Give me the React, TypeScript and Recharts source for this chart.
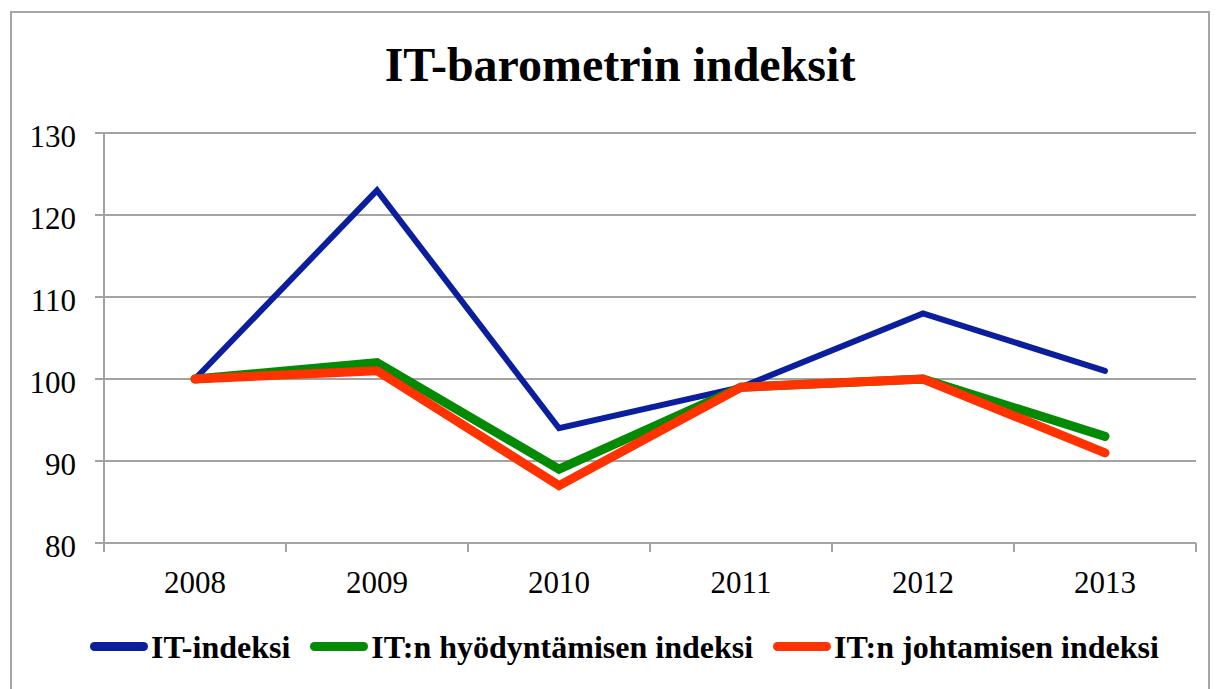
import { LineChart, Line, XAxis, YAxis, CartesianGrid } from "recharts";

const YEARS = ["2008", "2009", "2010", "2011", "2012", "2013"];
const IT_INDEKSI = [100, 123, 94, 99, 108, 101];
const HYODYNTAMINEN = [100, 102, 89, 99, 100, 93];
const JOHTAMINEN = [100, 101, 87, 99, 100, 91];
const Y_TICKS = [80, 90, 100, 110, 120, 130];

const SERIES = [
  { key: "it", name: "IT-indeksi", color: "#0A1E9E", width: 6 },
  { key: "hyod", name: "IT:n hyödyntämisen indeksi", color: "#058A05", width: 9 },
  { key: "joht", name: "IT:n johtamisen indeksi", color: "#FF3200", width: 9 },
];

const data = YEARS.map((year, i) => ({
  year,
  it: IT_INDEKSI[i],
  hyod: HYODYNTAMINEN[i],
  joht: JOHTAMINEN[i],
}));

const W = 1217;
const H = 689;
const PLOT_LEFT = 104;
const PLOT_RIGHT = 1196;
const PLOT_TOP = 133;
const PLOT_BOTTOM = 543;
const BAND = (PLOT_RIGHT - PLOT_LEFT) / YEARS.length;
const GRID = "#A3A3A3";
const FONT = "'Liberation Serif', 'Times New Roman', serif";

function XTick(props: any) {
  const { x, y, payload, index } = props;
  const last = index === YEARS.length - 1;
  return (
    <g>
      <line x1={x - BAND / 2} x2={x - BAND / 2} y1={y} y2={y + 9} stroke={GRID} strokeWidth={2} />
      {last && <line x1={x + BAND / 2} x2={x + BAND / 2} y1={y} y2={y + 9} stroke={GRID} strokeWidth={2} />}
      <text x={x} y={y + 50} textAnchor="middle" fontSize={31} fontFamily={FONT} fill="#000">
        {payload.value}
      </text>
    </g>
  );
}

function YTick(props: any) {
  const { x, y, payload } = props;
  return (
    <text x={x} y={y + 14} textAnchor="end" fontSize={31} fontFamily={FONT} fill="#000">
      {payload.value}
    </text>
  );
}

export default function App() {
  return (
    <div style={{ position: "absolute", left: 0, top: 0, width: W, height: H, overflow: "hidden", background: "#fff" }}>
      <div
        style={{
          position: "absolute",
          left: 10,
          top: 11,
          width: 1196,
          height: 720,
          border: "2px solid #A6A6A6",
        }}
      />
      <div
        style={{
          position: "absolute",
          left: 0,
          width: 1240,
          top: 35,
          textAlign: "center",
          fontFamily: FONT,
          fontWeight: "bold",
          fontSize: 48,
          lineHeight: "60px",
        }}
      >
        IT-barometrin indeksit
      </div>
      <div style={{ position: "absolute", left: 0, top: 0 }}>
        <LineChart
          width={W}
          height={H}
          data={data}
          margin={{ top: PLOT_TOP, right: W - PLOT_RIGHT, bottom: H - PLOT_BOTTOM - 60, left: 0 }}
        >
          <CartesianGrid vertical={false} stroke={GRID} strokeWidth={2} />
          <XAxis
            dataKey="year"
            height={60}
            padding={{ left: BAND / 2, right: BAND / 2 }}
            axisLine={{ stroke: GRID, strokeWidth: 2 }}
            tickLine={false}
            tickSize={0}
            tickMargin={0}
            tick={<XTick />}
            interval={0}
          />
          <YAxis
            domain={[80, 130]}
            ticks={Y_TICKS}
            width={PLOT_LEFT}
            axisLine={{ stroke: GRID, strokeWidth: 2 }}
            tickLine={{ stroke: GRID, strokeWidth: 2 }}
            tickSize={9}
            tickMargin={19}
            tick={<YTick />}
            interval={0}
          />
          {SERIES.map((s) => (
            <Line
              key={s.key}
              dataKey={s.key}
              name={s.name}
              type="linear"
              stroke={s.color}
              strokeWidth={s.width}
              strokeLinecap="round"
              strokeLinejoin="miter"
              dot={false}
              activeDot={false}
              isAnimationActive={false}
            />
          ))}
        </LineChart>
      </div>
      <div
        style={{
          position: "absolute",
          left: 90,
          top: 627,
          display: "flex",
          alignItems: "center",
          fontFamily: FONT,
          fontWeight: "bold",
          fontSize: 32,
          lineHeight: "40px",
        }}
      >
        {SERIES.map((s) => (
          <div key={s.key} style={{ display: "flex", alignItems: "center", marginRight: 20 }}>
            <span
              style={{
                display: "inline-block",
                width: 58,
                height: 9,
                borderRadius: 5,
                background: s.color,
                marginRight: 3,
                marginTop: -2,
              }}
            />
            <span>{s.name}</span>
          </div>
        ))}
      </div>
    </div>
  );
}
